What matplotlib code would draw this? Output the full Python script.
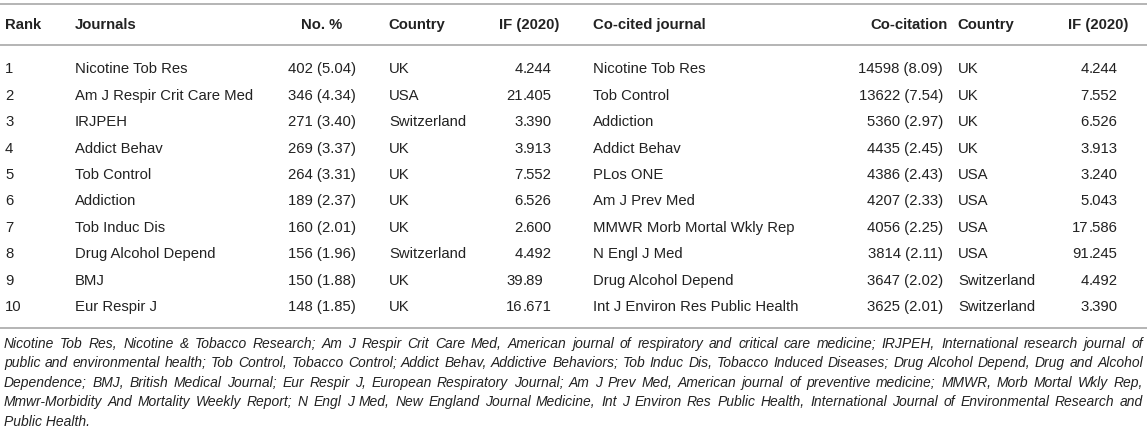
import matplotlib
matplotlib.use("Agg")
import matplotlib.pyplot as plt

# ---------------- data ----------------
ranks = [1, 2, 3, 4, 5, 6, 7, 8, 9, 10]
journals = ["Nicotine Tob Res", "Am J Respir Crit Care Med", "IRJPEH", "Addict Behav",
            "Tob Control", "Addiction", "Tob Induc Dis", "Drug Alcohol Depend", "BMJ",
            "Eur Respir J"]
journal_counts = [402, 346, 271, 269, 264, 189, 160, 156, 150, 148]
journal_pct = ["5.04", "4.34", "3.40", "3.37", "3.31", "2.37", "2.01", "1.96", "1.88", "1.85"]
journal_country = ["UK", "USA", "Switzerland", "UK", "UK", "UK", "UK", "Switzerland", "UK", "UK"]
journal_if = ["4.244", "21.405", "3.390", "3.913", "7.552", "6.526", "2.600", "4.492",
              "39.89", "16.671"]

cocited = ["Nicotine Tob Res", "Tob Control", "Addiction", "Addict Behav", "PLos ONE",
           "Am J Prev Med", "MMWR Morb Mortal Wkly Rep", "N Engl J Med",
           "Drug Alcohol Depend", "Int J Environ Res Public Health"]
cocit_counts = [14598, 13622, 5360, 4435, 4386, 4207, 4056, 3814, 3647, 3625]
cocit_pct = ["8.09", "7.54", "2.97", "2.45", "2.43", "2.33", "2.25", "2.11", "2.02", "2.01"]
cocit_country = ["UK", "UK", "UK", "UK", "USA", "USA", "USA", "USA", "Switzerland", "Switzerland"]
cocit_if = ["4.244", "7.552", "6.526", "3.913", "3.240", "5.043", "17.586", "91.245",
            "4.492", "3.390"]

headers = ["Rank", "Journals", "No. %", "Country", "IF (2020)",
           "Co-cited journal", "Co-citation", "Country", "IF (2020)"]

footnote_lines = [
    "Nicotine Tob Res, Nicotine & Tobacco Research; Am J Respir Crit Care Med, American journal of respiratory and critical care medicine; IRJPEH, International research journal of",
    "public and environmental health; Tob Control, Tobacco Control; Addict Behav, Addictive Behaviors; Tob Induc Dis, Tobacco Induced Diseases; Drug Alcohol Depend, Drug and Alcohol",
    "Dependence; BMJ, British Medical Journal; Eur Respir J, European Respiratory Journal; Am J Prev Med, American journal of preventive medicine; MMWR, Morb Mortal Wkly Rep,",
    "Mmwr-Morbidity And Mortality Weekly Report; N Engl J Med, New England Journal Medicine, Int J Environ Res Public Health, International Journal of Environmental Research and",
    "Public Health.",
]

# ---------------- layout ----------------
W, H = 1147, 433
FONT = "Liberation Sans"
FS = 10.7
TXT = "#222222"
LINE = "#b4b4b4"

fig = plt.figure(figsize=(W / 100, H / 100), dpi=100)
ax = fig.add_axes([0, 0, 1, 1])
ax.set_xlim(0, W)
ax.set_ylim(H, 0)
ax.axis("off")
renderer = fig.canvas.get_renderer()


def txt(x, y, s, ha="left", weight="normal", style="normal", size=FS):
    # y is the visual centre of capitals; place on baseline for even rows
    yb = y + 0.36 * size * 100 / 72
    return ax.text(x, yb, s, ha=ha, va="baseline", fontsize=size, family=FONT,
                   fontweight=weight, fontstyle=style, color=TXT)


def width(s, size=FS, style="normal"):
    t = ax.text(0, 0, s, fontsize=size, family=FONT, fontstyle=style)
    w = t.get_window_extent(renderer).width
    t.remove()
    return w


# rules
for yl in (4, 45, 328):
    ax.plot([0, W], [yl, yl], color=LINE, lw=1.4, solid_capstyle="butt")

# header
y_head = 24
hx = [(5, "left"), (75, "left"), (322, "center"), (388, "left"), (559, "right"),
      (593, "left"), (948, "right"), (957, "left"), (1128, "right")]
for (x, ha), h in zip(hx, headers):
    txt(x, y_head, h, ha=ha, weight="bold")

# decimal alignment helper
frac_w = width(".000")


def dec_text(x_right3, y, s):
    ip, fp = s.split(".")
    xd = x_right3 - frac_w
    txt(xd, y, ip, ha="right")
    txt(xd, y, "." + fp, ha="left")


y0, dy = 68, 26.4
for i in range(len(ranks)):
    y = y0 + i * dy
    txt(5, y, str(ranks[i]))
    txt(75, y, journals[i])
    txt(356, y, f"{journal_counts[i]} ({journal_pct[i]})", ha="right")
    txt(389, y, journal_country[i])
    dec_text(552, y, journal_if[i])
    txt(593, y, cocited[i])
    txt(943, y, f"{cocit_counts[i]} ({cocit_pct[i]})", ha="right")
    txt(958, y, cocit_country[i])
    dec_text(1118, y, cocit_if[i])

# justified footnote; font size chosen so the widest line just fits
x_left, x_right = 4, 1143
base = 9.0
nat = max(width(l, base, "italic") for l in footnote_lines[:-1])
FS_NOTE = base * (x_right - x_left) / nat * 0.985
fy0, fdy = 343, 19.5
for li, line in enumerate(footnote_lines):
    y = fy0 + li * fdy
    words = line.split(" ")
    if li == len(footnote_lines) - 1:
        txt(x_left, y, line, style="italic", size=FS_NOTE)
        continue
    ws = [width(w, FS_NOTE, "italic") for w in words]
    gap = (x_right - x_left - sum(ws)) / (len(words) - 1)
    x = x_left
    for w, ww in zip(words, ws):
        txt(x, y, w, style="italic", size=FS_NOTE)
        x += ww + gap

fig.savefig("out.png", dpi=100, facecolor="white")
